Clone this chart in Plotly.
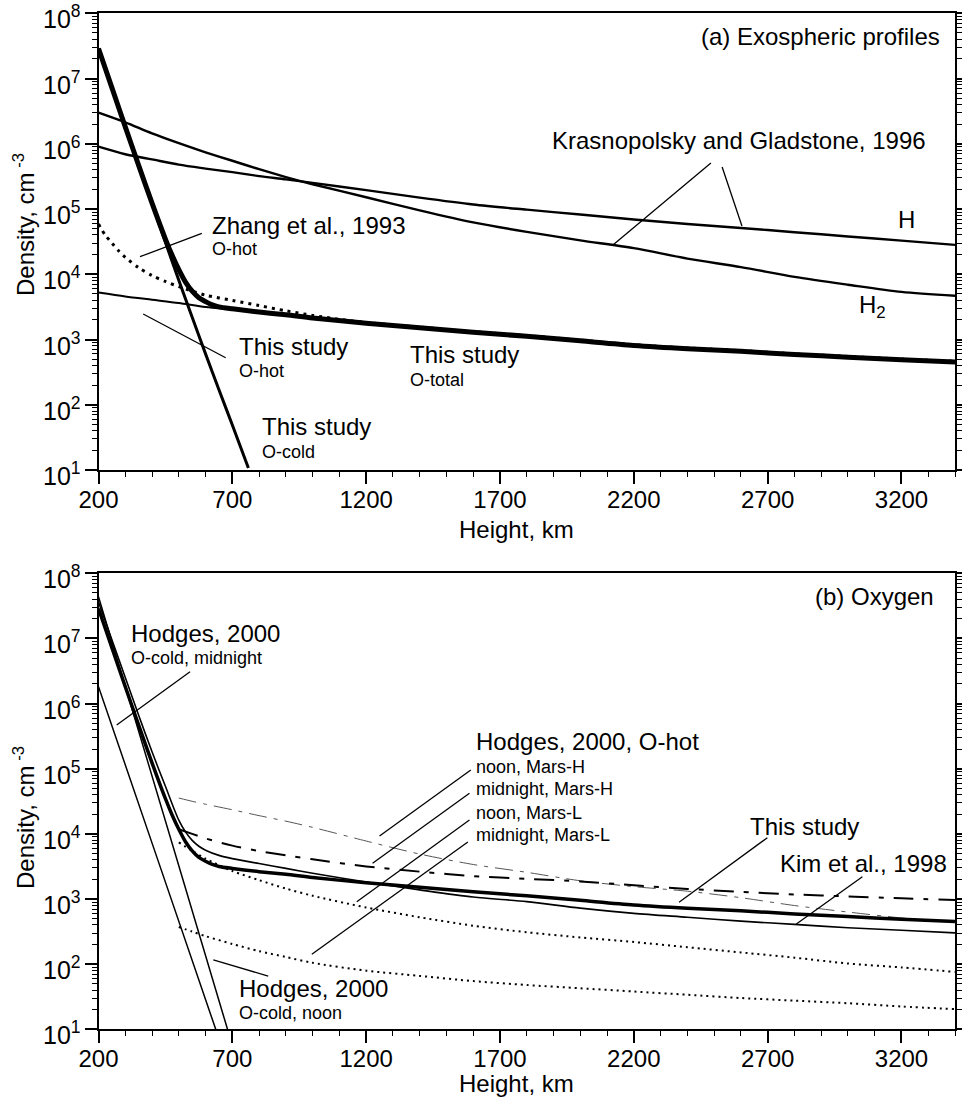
import plotly.graph_objects as go

FONT = "Liberation Sans, Arial, Helvetica, sans-serif"

# ---------------- Panel (a): exospheric profiles ----------------
# Krasnopolsky and Gladstone (1996) H and H2 (log10 density, cm^-3)
HEIGHT_KG = [200, 300, 400, 500, 600, 700, 800, 900, 1000, 1200, 1400, 1600,
             1800, 2000, 2200, 2400, 2600, 2800, 3000, 3200, 3400]
H_LOG = [5.955, 5.84, 5.76, 5.68, 5.62, 5.565, 5.505, 5.455, 5.40, 5.29, 5.175,
         5.07, 4.99, 4.915, 4.84, 4.77, 4.71, 4.645, 4.58, 4.515, 4.45]
H2_LOG = [6.478, 6.33, 6.16, 6.01, 5.87, 5.74, 5.61, 5.49, 5.38, 5.18, 4.98,
          4.795, 4.65, 4.52, 4.40, 4.24, 4.11, 3.96, 3.84, 3.73, 3.67]

# This study: cold oxygen
HEIGHT_COLD = [200, 250, 300, 350, 400, 450, 500, 550, 600, 650, 700, 760]
O_COLD_LOG = [7.46, 6.86, 6.26, 5.67, 5.08, 4.49, 3.91, 3.34, 2.78, 2.23, 1.69, 1.03]

# This study: hot oxygen
HEIGHT_HOT = [200, 300, 400, 500, 600, 700, 800, 900, 1000, 1200, 1400, 1600,
              1800, 2000, 2200, 2400, 2600, 2800, 3000, 3200, 3400]
O_HOT_LOG = [3.72, 3.66, 3.61, 3.56, 3.50, 3.46, 3.42, 3.38, 3.33, 3.25, 3.18,
             3.11, 3.05, 2.98, 2.91, 2.86, 2.82, 2.77, 2.73, 2.69, 2.655]

# This study: total oxygen
HEIGHT_TOTAL = [200, 250, 300, 350, 400, 450, 475, 500, 525, 550, 575, 600, 625,
                650, 700, 800, 900, 1000, 1200, 1400, 1600, 1800, 2000, 2200,
                2400, 2600, 2800, 3000, 3200, 3400]
O_TOTAL_LOG = [7.46, 6.86, 6.26, 5.67, 5.09, 4.54, 4.29, 4.07, 3.88, 3.74, 3.64,
               3.58, 3.53, 3.50, 3.47, 3.42, 3.38, 3.33, 3.25, 3.18, 3.11, 3.05,
               2.98, 2.91, 2.86, 2.82, 2.77, 2.73, 2.69, 2.655]

# Zhang et al. (1993) hot oxygen
HEIGHT_ZHANG = [200, 225, 250, 275, 300, 350, 400, 450, 500, 600, 700, 800, 900,
                1000, 1100, 1200, 1400, 1600, 1800, 2000, 2200, 2400, 2600,
                2800, 3000, 3200, 3400]
ZHANG_LOG = [4.77, 4.60, 4.48, 4.36, 4.26, 4.10, 3.98, 3.89, 3.81, 3.68, 3.60,
             3.52, 3.44, 3.37, 3.31, 3.26, 3.19, 3.12, 3.06, 2.99, 2.92, 2.87,
             2.83, 2.78, 2.74, 2.70, 2.665]

# ---------------- Panel (b): oxygen ----------------
# Kim et al. (1998)
HEIGHT_KIM = [200, 250, 300, 350, 400, 450, 500, 525, 550, 575, 600, 650, 700,
              800, 900, 1000, 1200, 1400, 1600, 1800, 2000, 2200, 2400, 2600,
              2800, 3000, 3200, 3400]
KIM_LOG = [7.56, 6.98, 6.40, 5.82, 5.26, 4.73, 4.21, 4.03, 3.90, 3.81, 3.75,
           3.67, 3.62, 3.545, 3.47, 3.395, 3.26, 3.14, 3.03, 2.96, 2.86, 2.78,
           2.72, 2.66, 2.61, 2.56, 2.52, 2.48]

# Hodges (2000) cold oxygen, noon and midnight
HEIGHT_HCOLD_NOON = [200, 495, 682]
HCOLD_NOON_LOG = [7.64, 3.58, 1.0]
HEIGHT_HCOLD_MIDNIGHT = [200, 420, 638]
HCOLD_MIDNIGHT_LOG = [6.26, 3.62, 1.0]

# Hodges (2000) hot oxygen
HEIGHT_HHOT = [500, 550, 600, 700, 800, 900, 1000, 1200, 1400, 1600, 1800, 2000,
               2200, 2400, 2600, 2800, 3000, 3200, 3400]
NOON_MARS_H_LOG = [4.55, 4.50, 4.455, 4.37, 4.28, 4.195, 4.10, 3.89, 3.69, 3.53,
                   3.41, 3.28, 3.19, 3.12, 3.02, 2.90, 2.80, 2.71, 2.645]
MIDNIGHT_MARS_H_LOG = [4.07, 4.00, 3.93, 3.82, 3.735, 3.67, 3.61, 3.50, 3.42,
                       3.35, 3.31, 3.27, 3.21, 3.155, 3.11, 3.07, 3.04, 3.01, 2.985]
NOON_MARS_L_LOG = [3.87, 3.74, 3.62, 3.43, 3.29, 3.16, 3.05, 2.87, 2.72, 2.59,
                   2.49, 2.41, 2.34, 2.26, 2.18, 2.10, 2.01, 1.95, 1.88]
MIDNIGHT_MARS_L_LOG = [2.57, 2.50, 2.43, 2.31, 2.20, 2.11, 2.02, 1.90, 1.82, 1.74,
                       1.68, 1.63, 1.58, 1.53, 1.48, 1.44, 1.40, 1.35, 1.31]

# Axis ticks
X_TICKS = [200, 700, 1200, 1700, 2200, 2700, 3200]
X_MINOR = list(range(300, 3401, 100))
Y_EXP = [1, 2, 3, 4, 5, 6, 7, 8]

# Leader lines: (height0, log10 n0, height1, log10 n1)
LEADERS_A = [
    (586, 4.628, 355, 4.269),
    (367, 3.391, 675, 2.721),
    (2488, 5.705, 2122, 4.448),
    (2530, 5.644, 2604, 4.740),
]
LEADERS_B = [
    (542, 6.489, 268, 5.671),
    (834, 1.818, 629, 2.064),
    (1591, 4.980, 1250, 3.967),
    (1586, 4.623, 1224, 3.548),
    (1586, 4.213, 1165, 2.959),
    (1580, 3.875, 997, 2.151),
    (2699, 3.941, 2369, 2.949),
    (3054, 3.342, 2806, 2.612),
]


def dens(logs):
    return [10 ** v for v in logs]


fig = go.Figure()


def line(x, ylog, panel, width=2.0, color="black", dash="solid", smooth=True):
    xa, ya = ("x", "y") if panel == "a" else ("x2", "y2")
    fig.add_trace(go.Scatter(
        x=x, y=dens(ylog), mode="lines", xaxis=xa, yaxis=ya,
        line=dict(color=color, width=width, dash=dash,
                  shape="spline" if smooth else "linear",
                  smoothing=0.8 if smooth else None),
        hoverinfo="skip", showlegend=False))


# Panel (a)
line(HEIGHT_KG, H_LOG, "a", 2.4)
line(HEIGHT_KG, H2_LOG, "a", 2.4)
line(HEIGHT_ZHANG, ZHANG_LOG, "a", 3.0, dash="3px,5px")
line(HEIGHT_HOT, O_HOT_LOG, "a", 2.0)
line(HEIGHT_COLD, O_COLD_LOG, "a", 3.0)
line(HEIGHT_TOTAL, O_TOTAL_LOG, "a", 5.0)

# Panel (b)
line(HEIGHT_HHOT, NOON_MARS_H_LOG, "b", 1.0, color="#555555", dash="18px,7px,4px,7px")
line(HEIGHT_HHOT, MIDNIGHT_MARS_H_LOG, "b", 2.0, dash="20px,10px,5px,10px")
line(HEIGHT_HHOT, NOON_MARS_L_LOG, "b", 2.0, dash="2px,4px")
line(HEIGHT_HHOT, MIDNIGHT_MARS_L_LOG, "b", 2.0, dash="2px,4px")
line(HEIGHT_HCOLD_NOON, HCOLD_NOON_LOG, "b", 1.5)
line(HEIGHT_HCOLD_MIDNIGHT, HCOLD_MIDNIGHT_LOG, "b", 1.5)
line(HEIGHT_KIM, KIM_LOG, "b", 1.6)
line(HEIGHT_TOTAL, O_TOTAL_LOG, "b", 3.5)

# Leader lines
for panel, leaders in (("a", LEADERS_A), ("b", LEADERS_B)):
    for h0, n0, h1, n1 in leaders:
        line([h0, h1], [n0, n1], panel, 1.3, smooth=False)

# Text labels: (text, height, log10 n, size, anchor)
LABELS_A = [
    ("(a) Exospheric profiles", 3350, 7.652, 24, "right"),
    ("Krasnopolsky and Gladstone, 1996", 1887, 6.043, 24, "left"),
    ("H", 3220, 4.832, 24, "center"),
    ("H<sub>2</sub>", 3034, 3.50, 24, "left"),
    ("Zhang et al., 1993", 617, 4.740, 24, "left"),
    ("O-hot", 617, 4.387, 18, "left"),
    ("This study", 716, 2.900, 24, "left"),
    ("O-hot", 716, 2.517, 18, "left"),
    ("This study", 1357, 2.778, 24, "left"),
    ("O-total", 1357, 2.379, 18, "left"),
    ("This study", 803, 1.674, 24, "left"),
    ("O-cold", 803, 1.276, 18, "left"),
]
LABELS_B = [
    ("(b) Oxygen", 3329, 7.651, 24, "right"),
    ("Hodges, 2000, O-hot", 1602, 5.415, 24, "left"),
    ("noon, Mars-H", 1602, 5.031, 18, "left"),
    ("midnight, Mars-H", 1602, 4.684, 18, "left"),
    ("noon, Mars-L", 1602, 4.325, 18, "left"),
    ("midnight, Mars-L", 1602, 3.983, 18, "left"),
    ("This study", 2627, 4.110, 24, "left"),
    ("Kim et al., 1998", 2738, 3.548, 24, "left"),
    ("Hodges, 2000", 315, 7.079, 24, "left"),
    ("O-cold, midnight", 315, 6.695, 18, "left"),
    ("Hodges, 2000", 719, 1.629, 24, "left"),
    ("O-cold, noon", 719, 1.245, 18, "left"),
]

annotations = []
for refs, labels in ((("x", "y"), LABELS_A), (("x2", "y2"), LABELS_B)):
    for text, hx, ny, size, anchor in labels:
        annotations.append(dict(
            text=text, x=hx, y=ny, xref=refs[0], yref=refs[1],
            xanchor=anchor, yanchor="middle", showarrow=False,
            font=dict(family=FONT, size=size, color="black")))

# Power-of-ten labels on the density axes, set slightly below their ticks
for yref in ("y", "y2"):
    for e in Y_EXP:
        annotations.append(dict(
            text="10<sup>%d</sup>" % e, x=83 / 962, y=e, xref="paper", yref=yref,
            xanchor="right", yanchor="middle", yshift=-4, showarrow=False,
            font=dict(family=FONT, size=25, color="black")))

# Axis titles
Y_TITLE = "Density, cm<sup> -3</sup>"
for yc in (1 - 225 / 1103, 1 - 818 / 1103):
    annotations.append(dict(
        text=Y_TITLE, x=24 / 962, y=yc, xref="paper", yref="paper",
        xanchor="center", yanchor="middle", textangle=-90, showarrow=False,
        font=dict(family=FONT, size=24, color="black")))
for yc in (1 - 529 / 1103, 1 - 1083 / 1103):
    annotations.append(dict(
        text="Height, km", x=516.5 / 962, y=yc, xref="paper", yref="paper",
        xanchor="center", yanchor="middle", showarrow=False,
        font=dict(family=FONT, size=24, color="black")))

X_DOMAIN = [98.5 / 962, 955 / 962]
YA_DOMAIN = [1 - 470 / 1103, 1 - 13.3 / 1103]
YB_DOMAIN = [1 - 1029.3 / 1103, 1 - 573.3 / 1103]


def xaxis(anchor):
    return dict(
        type="linear", range=[200, 3400], domain=X_DOMAIN, anchor=anchor,
        automargin=False, ticklabeloverflow="allow", ticklabelstandoff=-5,
        tickmode="array", tickvals=X_TICKS, ticktext=[str(v) for v in X_TICKS],
        ticks="outside", ticklen=12, tickwidth=1.5, tickcolor="black",
        showline=True, linewidth=2, linecolor="black", mirror=True,
        showgrid=False, zeroline=False,
        tickfont=dict(family=FONT, size=24, color="black"),
        minor=dict(tickmode="array", tickvals=X_MINOR, ticks="outside",
                   ticklen=5, tickwidth=1.2, tickcolor="black", showgrid=False))


def yaxis(anchor, domain):
    return dict(
        type="log", range=[1, 8], domain=domain, anchor=anchor,
        automargin=False, showticklabels=False,
        tickmode="array", tickvals=[10 ** e for e in Y_EXP],
        ticks="outside", ticklen=12, tickwidth=1.5, tickcolor="black",
        showline=True, linewidth=2, linecolor="black", mirror="allticks",
        showgrid=False, zeroline=False,
        minor=dict(tickmode="array",
                   tickvals=[m * 10 ** e for e in Y_EXP[:-1] for m in range(2, 10)],
                   ticks="outside", ticklen=5, tickwidth=1.2, tickcolor="black",
                   showgrid=False))


fig.update_layout(
    template="none",
    width=962, height=1103, autosize=False,
    margin=dict(l=0, r=0, t=0, b=0, autoexpand=False),
    paper_bgcolor="white", plot_bgcolor="white",
    showlegend=False,
    font=dict(family=FONT, color="black"),
    xaxis=xaxis("y"), yaxis=yaxis("x", YA_DOMAIN),
    xaxis2=xaxis("y2"), yaxis2=yaxis("x2", YB_DOMAIN),
    annotations=annotations,
)

fig.write_html("out.html")
